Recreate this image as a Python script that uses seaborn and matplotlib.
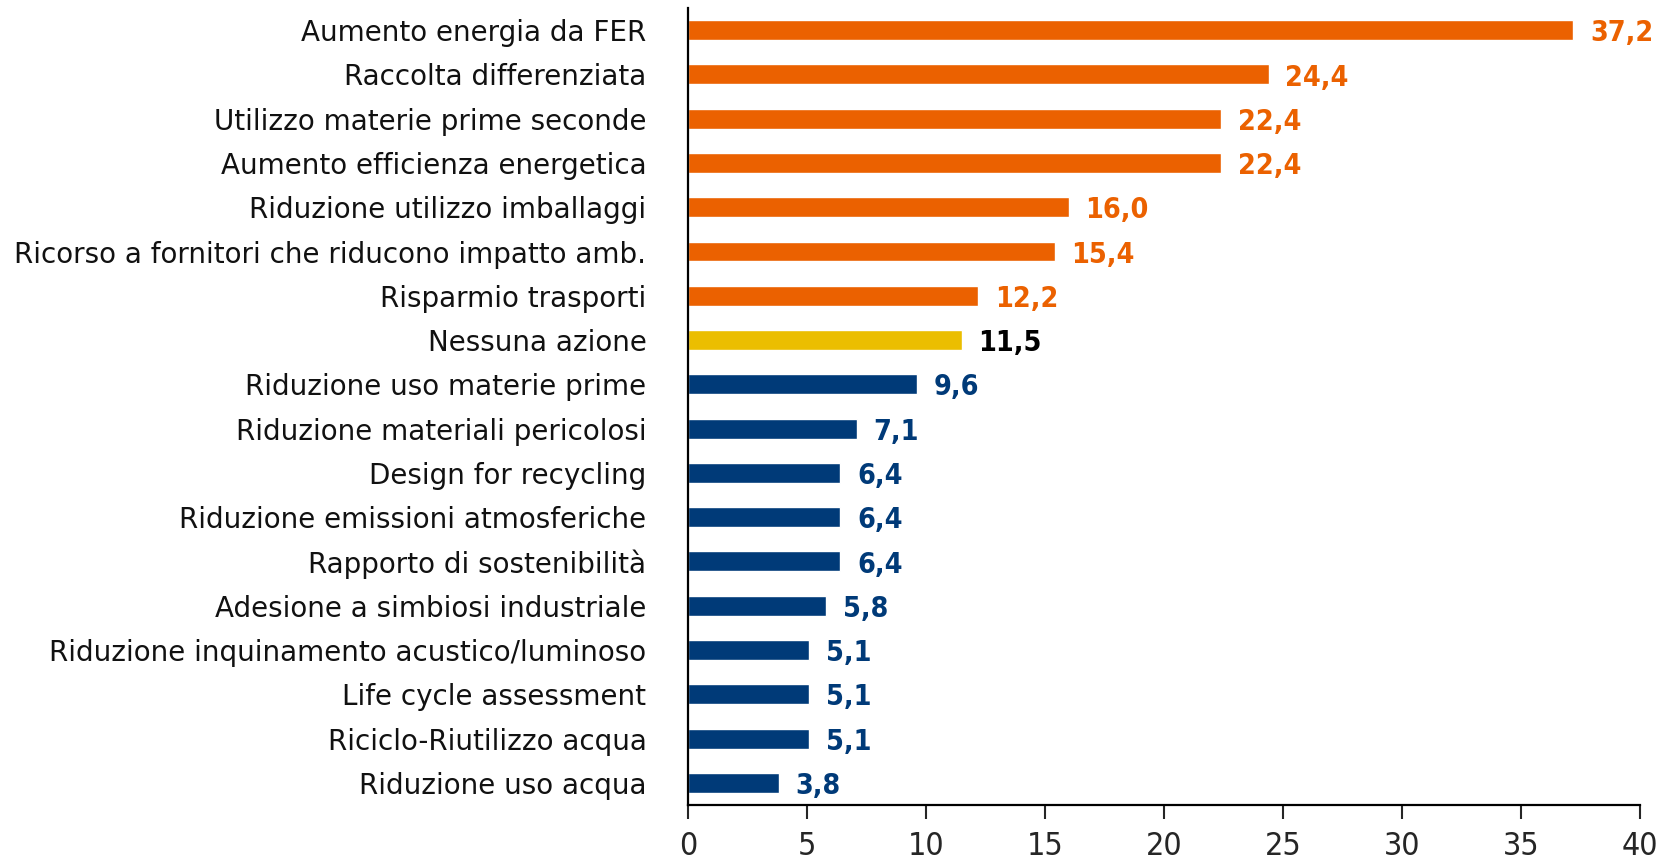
import matplotlib
matplotlib.use("Agg")
import matplotlib.pyplot as plt
import seaborn as sns
import pandas as pd

# dati
categorie = [
    "Aumento energia da FER",
    "Raccolta differenziata",
    "Utilizzo materie prime seconde",
    "Aumento efficienza energetica",
    "Riduzione utilizzo imballaggi",
    "Ricorso a fornitori che riducono impatto amb.",
    "Risparmio trasporti",
    "Nessuna azione",
    "Riduzione uso materie prime",
    "Riduzione materiali pericolosi",
    "Design for recycling",
    "Riduzione emissioni atmosferiche",
    "Rapporto di sostenibilità",
    "Adesione a simbiosi industriale",
    "Riduzione inquinamento acustico/luminoso",
    "Life cycle assessment",
    "Riciclo-Riutilizzo acqua",
    "Riduzione uso acqua",
]
valori = [37.2, 24.4, 22.4, 22.4, 16.0, 15.4, 12.2, 11.5, 9.6, 7.1,
          6.4, 6.4, 6.4, 5.8, 5.1, 5.1, 5.1, 3.8]
gruppi = ["top"] * 7 + ["nessuna"] + ["altro"] * 10

ARANCIO = "#EB6100"
GIALLO = "#EBBE00"
BLU = "#003A78"
col_barre = {"top": ARANCIO, "nessuna": GIALLO, "altro": BLU}
col_testo = {"top": ARANCIO, "nessuna": "black", "altro": BLU}

df = pd.DataFrame({"cat": categorie, "val": valori, "gruppo": gruppi})

sns.set_style("white")
plt.rcParams["font.family"] = ["DejaVu Sans"]

fig = plt.figure(figsize=(16.64, 8.6), dpi=100)
ax = fig.add_axes([0.4135, 0.064, 0.5721, 0.9267])

sns.barplot(data=df, y="cat", x="val", hue="gruppo", palette=col_barre,
            orient="h", dodge=False, width=0.45, legend=False, ax=ax,
            saturation=1)

for i, (v, g) in enumerate(zip(valori, gruppi)):
    ax.text(v + 0.7, i + 0.07, f"{v:.1f}".replace(".", ","), va="center",
            ha="left", fontsize=20.5, fontweight="bold", fontstretch="condensed",
            color=col_testo[g])

ax.set_xlim(0, 40)
ax.set_ylim(17.5, -0.5)
ax.set_xticks(range(0, 41, 5))
ax.set_xlabel("")
ax.set_ylabel("")
ax.tick_params(axis="y", length=0, labelsize=20, pad=30, labelcolor="#111111")
ax.tick_params(axis="x", length=10, width=1.5, direction="out", labelsize=23,
               pad=9, bottom=True)
for lab in ax.get_xticklabels():
    lab.set_fontstretch("condensed")
for s in ["top", "right"]:
    ax.spines[s].set_visible(False)
for s in ["left", "bottom"]:
    ax.spines[s].set_color("black")
    ax.spines[s].set_linewidth(1.6)

fig.savefig("out.png", dpi=100)
